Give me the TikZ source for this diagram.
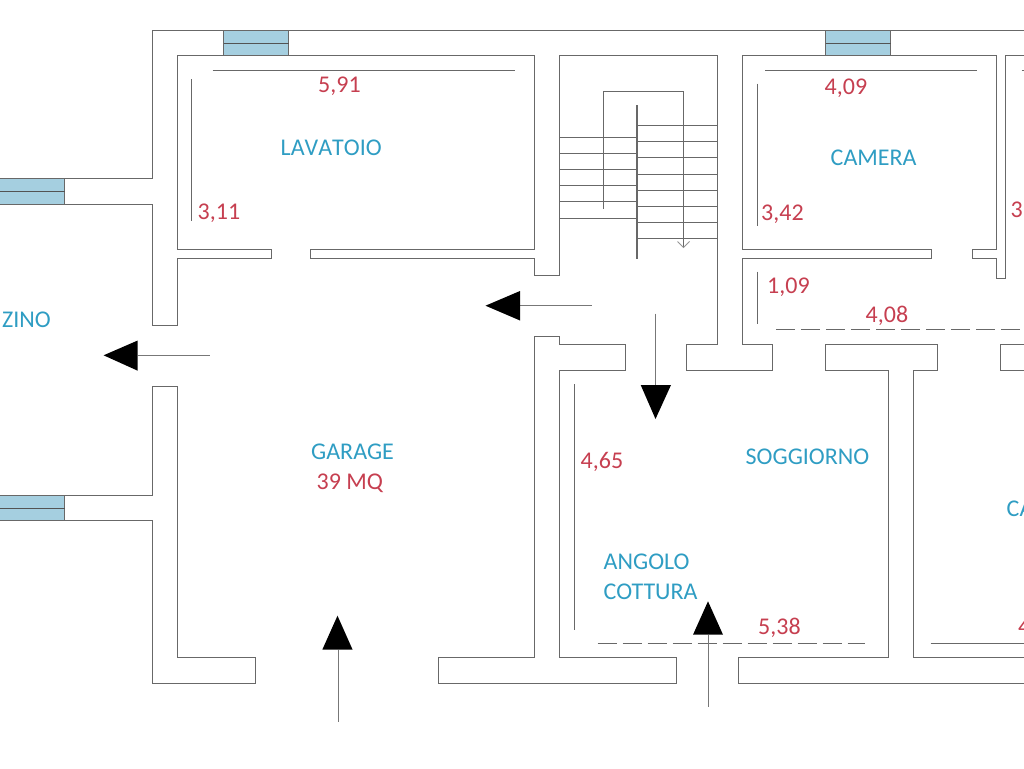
\documentclass[tikz,border=0pt]{standalone}
\usepackage{fontspec}
\setmainfont{Carlito}
\definecolor{wallc}{HTML}{686868}
\definecolor{roomblue}{HTML}{2F9DC3}
\definecolor{dimred}{HTML}{C63F50}
\definecolor{glass}{HTML}{A5CFE0}
\tikzset{
  wall/.style={draw=wallc,line width=1.3pt,line join=miter},
  dimline/.style={draw=wallc,line width=1.2pt},
  dimdash/.style={draw=wallc,line width=1.1pt,dash pattern=on 19pt off 6pt},
  tread/.style={draw=wallc,line width=1.1pt},
  win/.style={draw=wallc,fill=glass,line width=1.2pt},
  winbar/.style={draw=wallc!80!black,line width=1.5pt},
  arrowshaft/.style={draw=wallc!90,line width=1.2pt},
  arrowhead/.style={fill=black,draw=none},
  roomlabel/.style={text=roomblue,font=\fontsize{24}{24}\selectfont,anchor=base west,inner sep=0pt},
  dimlabel/.style={text=dimred,font=\fontsize{24}{24}\selectfont,anchor=base west,inner sep=0pt},
}
\begin{document}
\begin{tikzpicture}[x=1pt,y=-1pt]
\useasboundingbox (0,0) rectangle (1024,768);
\clip (0,0) rectangle (1024,768);
% windows
\draw[win] (223.5,30.5) rectangle (288.5,55.5);
\draw[winbar] (223.5,43.5) -- (288.5,43.5);
\draw[win] (825.5,30.5) rectangle (890.5,55.5);
\draw[winbar] (825.5,43.5) -- (890.5,43.5);
\draw[win] (-2,178.5) rectangle (64.5,204.5);
\draw[winbar] (-2,191.5) -- (64.5,191.5);
\draw[win] (-2,495.5) rectangle (64.5,520.5);
\draw[winbar] (-2,508.5) -- (64.5,508.5);
% outer wall, upper left
\draw[wall] (1026,30.5) -- (152.5,30.5) -- (152.5,178.5) -- (64.5,178.5);
\draw[wall] (64.5,204.5) -- (152.5,204.5) -- (152.5,325.5) -- (177.5,325.5) -- (177.5,258.5)
  -- (271.5,258.5) -- (271.5,249.5) -- (177.5,249.5) -- (177.5,55.5) -- (534.5,55.5)
  -- (534.5,249.5) -- (310.5,249.5) -- (310.5,258.5) -- (534.5,258.5) -- (534.5,275.5)
  -- (559.5,275.5) -- (559.5,55.5) -- (717.5,55.5) -- (717.5,344.5) -- (686.5,344.5)
  -- (686.5,370.5) -- (772.5,370.5) -- (772.5,344.5) -- (742.5,344.5) -- (742.5,258.5)
  -- (931.5,258.5) -- (931.5,249.5) -- (742.5,249.5) -- (742.5,55.5) -- (996.5,55.5)
  -- (996.5,249.5) -- (972.5,249.5) -- (972.5,258.5) -- (996.5,258.5) -- (996.5,278.5)
  -- (1005.5,278.5) -- (1005.5,55.5) -- (1026,55.5);
% garage / kitchen wall
\draw[wall] (438.5,683.5) -- (438.5,657.5) -- (534.5,657.5) -- (534.5,336.5) -- (559.5,336.5)
  -- (559.5,344.5) -- (625.5,344.5) -- (625.5,370.5) -- (559.5,370.5) -- (559.5,657.5)
  -- (676.5,657.5) -- (676.5,683.5) -- cycle;
% lower left wall
\draw[wall] (64.5,495.5) -- (152.5,495.5) -- (152.5,386.5) -- (177.5,386.5) -- (177.5,657.5)
  -- (255.5,657.5) -- (255.5,683.5) -- (152.5,683.5) -- (152.5,520.5) -- (64.5,520.5);
% living room wall
\draw[wall] (1026,683.5) -- (738.5,683.5) -- (738.5,657.5) -- (888.5,657.5) -- (888.5,370.5)
  -- (825.5,370.5) -- (825.5,344.5) -- (937.5,344.5) -- (937.5,370.5) -- (913.5,370.5)
  -- (913.5,657.5) -- (1026,657.5);
\draw[wall] (1026,344.5) -- (1000.5,344.5) -- (1000.5,370.5) -- (1026,370.5);
% stairs
\foreach \ty in {137.5,153.5,169.5,185.5,201.5,218.5}
  \draw[tread] (559.5,\ty) -- (637.5,\ty);
\foreach \ty in {125.5,141.5,157.5,174.5,190.5,206.5,222.5,238.5}
  \draw[tread] (637.5,\ty) -- (717.5,\ty);
\draw[draw=wallc,line width=2.4pt] (637,105) -- (637,258.5);
\draw[tread] (603.5,208.5) -- (603.5,91.5) -- (683.5,91.5) -- (683.5,246.5);
\draw[draw=wallc!70,line width=0.9pt] (677.5,241.5) -- (683.5,247.5) -- (689.5,241.5);
% dimension lines
\draw[dimline] (212.5,70.5) -- (515,70.5);
\draw[dimline] (191.5,79) -- (191.5,221);
\draw[dimline] (765,70.5) -- (976.5,70.5);
\draw[dimline] (757.5,83.5) -- (757.5,226);
\draw[dimline] (1021.5,70.5) -- (1026,70.5);
\draw[dimline] (757.5,271.5) -- (757.5,323.5);
\draw[dimline] (574.5,384) -- (574.5,629.5);
\draw[dimline] (930.5,643.5) -- (1026,643.5);
\draw[dimdash] (776,329.5) -- (1026,329.5);
\draw[dimdash] (597.5,643.5) -- (865,643.5);
% arrows
\draw[arrowshaft] (137.7,355.5) -- (209.5,355.5);
\fill[arrowhead] (103.6,355.3) -- (137.7,340.5) -- (137.7,370.7) -- cycle;
\draw[arrowshaft] (520,305.5) -- (591.5,305.5);
\fill[arrowhead] (485.5,305.7) -- (520,291) -- (520,320.5) -- cycle;
\draw[arrowshaft] (655.5,313.5) -- (655.5,385);
\fill[arrowhead] (655.5,419) -- (640.7,385) -- (671,385) -- cycle;
\draw[arrowshaft] (338.5,649.7) -- (338.5,721.5);
\fill[arrowhead] (337.5,615.7) -- (322.3,649.7) -- (352.6,649.7) -- cycle;
\draw[arrowshaft] (708.5,634.7) -- (708.5,706.5);
\fill[arrowhead] (708,601.3) -- (693,634.7) -- (723,634.7) -- cycle;
% labels
\node[roomlabel] (lavatoio) at (280.5,155) {\addfontfeatures{Kerning=Off}LAVATOIO};
\node[roomlabel] (camera) at (830.5,165) {CAMERA};
\node[roomlabel] (zino) at (2,327.5) {ZINO};
\node[roomlabel] (garage) at (311,459) {GARAGE};
\node[roomlabel] (soggiorno) at (745.5,464) {SOGGIORNO};
\node[roomlabel] (angolo) at (603.5,569) {ANGOLO};
\node[roomlabel] (cottura) at (603.5,599) {COTTURA};
\node[roomlabel] (ca) at (1006.5,516.5) {CA};
\node[dimlabel] (d591) at (318,92.5) {5,91};
\node[dimlabel] (d311) at (197.5,219) {3,11};
\node[dimlabel] (d409) at (824.5,94) {4,09};
\node[dimlabel] (d342) at (761,220.5) {3,42};
\node[dimlabel] (d3) at (1010.5,217.5) {3,};
\node[dimlabel] (d109) at (767,293.5) {1,09};
\node[dimlabel] (d408) at (865.5,322) {4,08};
\node[dimlabel] (mq) at (316.5,489) {39 MQ};
\node[dimlabel] (d465) at (580.5,468) {4,65};
\node[dimlabel] (d538) at (758,634) {5,38};
\node[dimlabel] (d4) at (1018,634) {4};
\end{tikzpicture}
\end{document}
